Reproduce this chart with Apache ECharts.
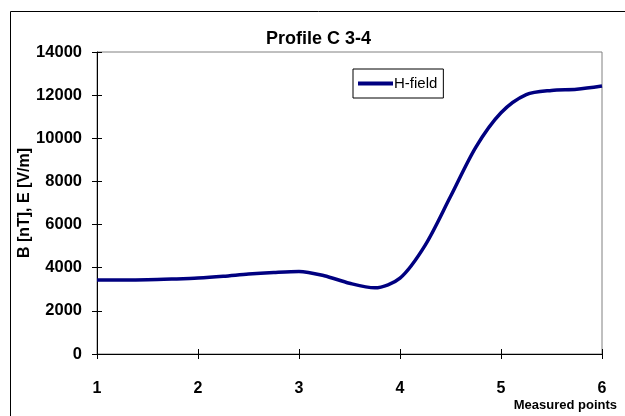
<!DOCTYPE html>
<html>
<head>
<meta charset="utf-8">
<script src="https://cdn.jsdelivr.net/npm/echarts@6/dist/echarts.min.js"></script>
<style>
html,body{margin:0;padding:0;background:#fff;}
#chart{width:625px;height:416px;}
</style>
</head>
<body>
<div id="chart"></div>
<script>
var titleText = 'Profile C 3-4';
var seriesName = 'H-field';
var xAxisName = 'Measured points';
var yAxisName = 'B [nT], E [V/m]';
var xs = [1, 1.25, 1.5, 1.75, 2, 2.25, 2.5, 2.75, 3, 3.25, 3.5, 3.75, 4, 4.25, 4.5, 4.75, 5, 5.25, 5.5, 5.75, 6];
var hField = [3430, 3430, 3440, 3475, 3520, 3600, 3705, 3780, 3830, 3630, 3280, 3070, 3520, 5050, 7300, 9580, 11180, 12020, 12220, 12270, 12420];

var chart = echarts.init(document.getElementById('chart'), null, {renderer: 'canvas'});
var font = 'Liberation Sans, Arial, sans-serif';
var pairs = xs.map(function (x, i) { return [x, hField[i]]; });

chart.setOption({
  animation: false,
  backgroundColor: '#fff',
  title: {
    text: titleText,
    left: 266,
    top: 30,
    padding: 0,
    textStyle: {fontFamily: font, fontSize: 18, fontWeight: 'bold', color: '#000'}
  },
  legend: {
    data: [seriesName],
    left: 353,
    top: 69,
    padding: [7, 6, 7, 5],
    borderColor: '#000',
    borderWidth: 1,
    icon: 'rect',
    itemWidth: 35,
    itemHeight: 4,
    itemGap: 0,
    textStyle: {fontFamily: font, fontSize: 15, color: '#000', padding: [0, 0, 0, -4]}
  },
  grid: {
    left: 97, right: 23, top: 52, bottom: 62,
    outerBoundsMode: 'none',
    containLabel: false,
    show: true, borderColor: '#808080', borderWidth: 1
  },
  xAxis: [{
    type: 'value', min: 1, max: 6, interval: 1,
    axisLine: {lineStyle: {color: '#000', width: 1}},
    axisTick: {show: true, length: 5, lineStyle: {color: '#000'}},
    axisLabel: {margin: 27, fontFamily: font, fontSize: 16, fontWeight: 'bold', color: '#000'},
    splitLine: {show: false}
  }, {
    type: 'value', min: 1, max: 6, interval: 1, position: 'bottom',
    axisLine: {show: false},
    axisTick: {show: true, inside: true, length: 5, lineStyle: {color: '#000'}},
    axisLabel: {show: false},
    splitLine: {show: false}
  }],
  yAxis: [{
    type: 'value', min: 0, max: 14000, interval: 2000,
    name: yAxisName, nameLocation: 'middle', nameGap: 64, nameRotate: 90,
    nameMoveOverlap: false,
    nameTextStyle: {fontFamily: font, fontSize: 16, fontWeight: 'bold', color: '#000'},
    axisLine: {show: true, lineStyle: {color: '#000', width: 1}},
    axisTick: {show: true, length: 5, lineStyle: {color: '#000'}},
    axisLabel: {
      margin: 15, fontFamily: font, fontSize: 16.5, fontWeight: 'bold', color: '#000',
      formatter: function (v) { return String(v); }
    },
    splitLine: {show: false}
  }, {
    type: 'value', min: 0, max: 14000, interval: 2000, position: 'left',
    axisLine: {show: false},
    axisTick: {show: true, inside: true, length: 5, lineStyle: {color: '#000'}},
    axisLabel: {show: false},
    splitLine: {show: false}
  }],
  graphic: [{
    type: 'rect',
    shape: {x: 10.5, y: 11.5, width: 800, height: 600},
    style: {fill: null, stroke: '#000', lineWidth: 1},
    silent: true, z: -1
  }, {
    type: 'text',
    right: 8,
    top: 399,
    style: {text: xAxisName, font: 'bold 13px ' + font, fill: '#000'}
  }],
  series: [{
    name: seriesName,
    type: 'line',
    data: pairs,
    smooth: 0.3,
    showSymbol: false,
    symbol: 'none',
    color: '#000080',
    lineStyle: {color: '#000080', width: 3.5},
    itemStyle: {color: '#000080'}
  }]
});
</script>
</body>
</html>
